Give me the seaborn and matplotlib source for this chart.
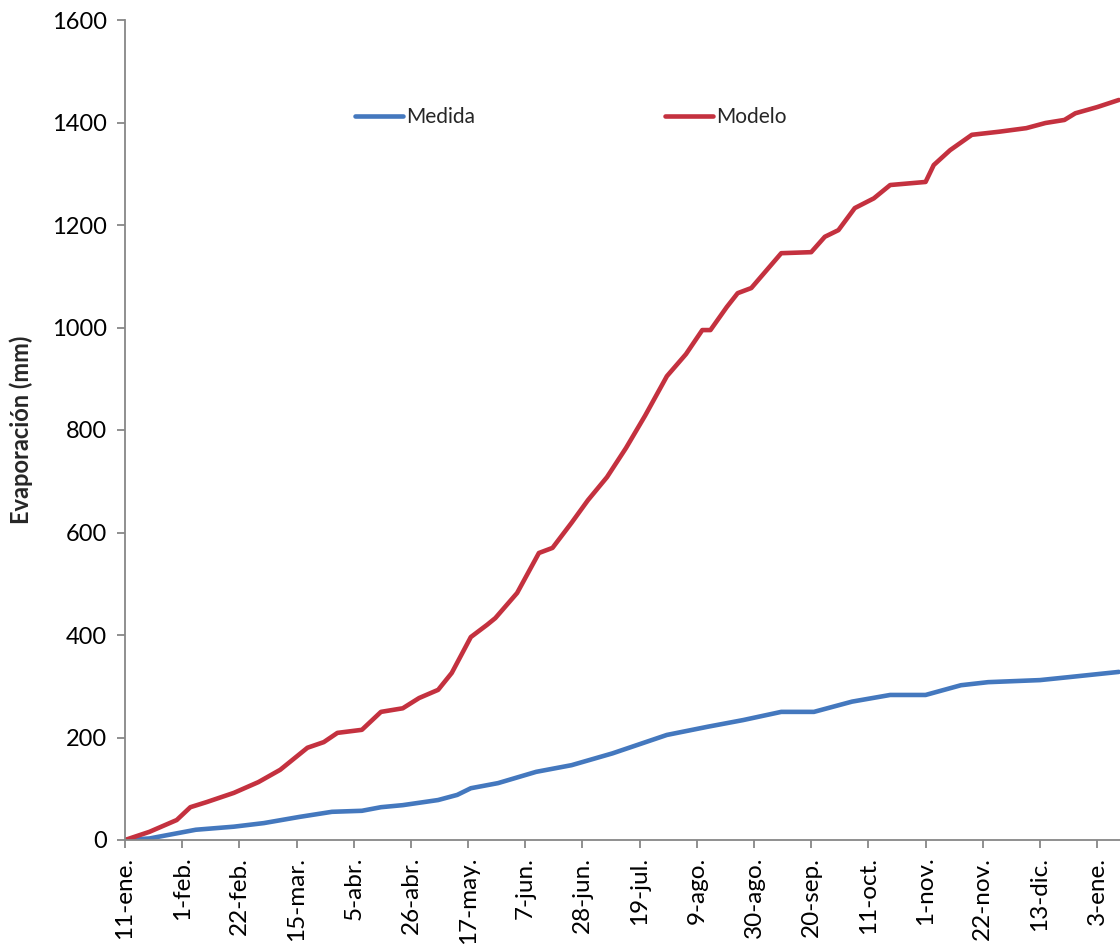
import numpy as np
import pandas as pd
import matplotlib
matplotlib.use("Agg")
import matplotlib.pyplot as plt
import seaborn as sns

# ---- data (day offsets from 11-ene. and cumulative evaporation in mm) ----
base_date = "2011-01-11"

medida_days = [0, 9, 20, 26, 40, 51, 64, 76, 87, 94, 102, 115, 122, 127, 137,
               151, 164, 179, 199, 214, 227, 241, 253, 267, 281, 294, 307,
               317, 336, 347, 365]
medida_vals = [0, 3, 14, 20, 26, 33, 45, 55, 57, 64, 68, 78, 88, 101, 111,
               133, 146, 169, 205, 221, 234, 250, 250, 270, 283, 283, 302,
               308, 312, 318, 328]

modelo_days = [0, 9, 19, 24, 30, 40, 49, 57, 67, 73, 78, 87, 94, 102, 108, 115,
               120, 127, 133, 136, 144, 152, 157, 164, 170, 177, 184, 191, 199,
               206, 212, 215, 221, 225, 230, 241, 252, 257, 262, 268, 275, 281,
               294, 297, 303, 311, 321, 331, 338, 345, 349, 357, 365]
modelo_vals = [0, 16, 39, 64, 74, 92, 113, 137, 180, 191, 209, 215, 250, 257,
               277, 293, 326, 396, 420, 433, 482, 560, 570, 619, 663, 708, 765,
               828, 905, 948, 995, 995, 1040, 1067, 1077, 1145, 1147, 1177, 1190,
               1233, 1252, 1278, 1284, 1317, 1346, 1376, 1382, 1389, 1399, 1405,
               1418, 1430, 1444]

tick_labels = ["11-ene.", "1-feb.", "22-feb.", "15-mar.", "5-abr.", "26-abr.",
               "17-may.", "7-jun.", "28-jun.", "19-jul.", "9-ago.", "30-ago.",
               "20-sep.", "11-oct.", "1-nov.", "22-nov.", "13-dic.", "3-ene."]
y_ticks = [0, 200, 400, 600, 800, 1000, 1200, 1400, 1600]

series_names = ["Medida", "Modelo"]
colors = {"Medida": "#4478BE", "Modelo": "#C4313F"}

# ---- build long-form table ----
t0 = pd.Timestamp(base_date)
df = pd.concat([
    pd.DataFrame({"Fecha": t0 + pd.to_timedelta(medida_days, unit="D"),
                  "Evaporación": medida_vals, "Serie": "Medida"}),
    pd.DataFrame({"Fecha": t0 + pd.to_timedelta(modelo_days, unit="D"),
                  "Evaporación": modelo_vals, "Serie": "Modelo"}),
], ignore_index=True)

sns.set_style("ticks")
plt.rcParams["font.family"] = ["Lato", "DejaVu Sans"]

fig = plt.figure(figsize=(11.2, 9.49), dpi=100)
ax = fig.add_axes([125 / 1120, 1 - 840 / 949, 995 / 1120, 820 / 949])

sns.lineplot(data=df, x="Fecha", y="Evaporación", hue="Serie",
             hue_order=series_names, palette=colors, linewidth=3.3,
             ax=ax, legend=True)

# axes limits and ticks
ax.set_ylim(0, 1600)
ax.set_yticks(y_ticks)
ax.set_yticklabels([str(v) for v in y_ticks])
tick_pos = [t0 + pd.Timedelta(days=21 * i) for i in range(len(tick_labels))]
ax.set_xticks(tick_pos)
ax.set_xticklabels(tick_labels, rotation=90)
ax.set_xlim(t0, t0 + pd.Timedelta(days=365.4))

spine_col = "#878787"
for s in ["top", "right"]:
    ax.spines[s].set_visible(False)
for s in ["left", "bottom"]:
    ax.spines[s].set_color(spine_col)
    ax.spines[s].set_linewidth(1.3)
ax.tick_params(axis="both", direction="out", length=6, width=1.3,
               color=spine_col, labelsize=17, labelcolor="black")
ax.tick_params(axis="x", labelsize=17.5, pad=6)
ax.tick_params(axis="y", pad=7)

ax.set_xlabel("")
ax.set_ylabel("Evaporación (mm)", fontsize=17, fontweight="bold")
ax.yaxis.set_label_coords(-0.092, 0.5)

# legend
handles, labels = ax.get_legend_handles_labels()
leg = ax.legend(handles, labels, ncol=2, loc="center",
                bbox_to_anchor=(571 / 1120, 1 - 117 / 949),
                bbox_transform=fig.transFigure, frameon=False,
                fontsize=15, handlelength=2.3, handletextpad=0.15,
                columnspacing=9.1)
for line in leg.get_lines():
    line.set_linewidth(3.3)

ax.set_facecolor("white")
fig.patch.set_facecolor("white")
fig.savefig("out.png", dpi=100)
